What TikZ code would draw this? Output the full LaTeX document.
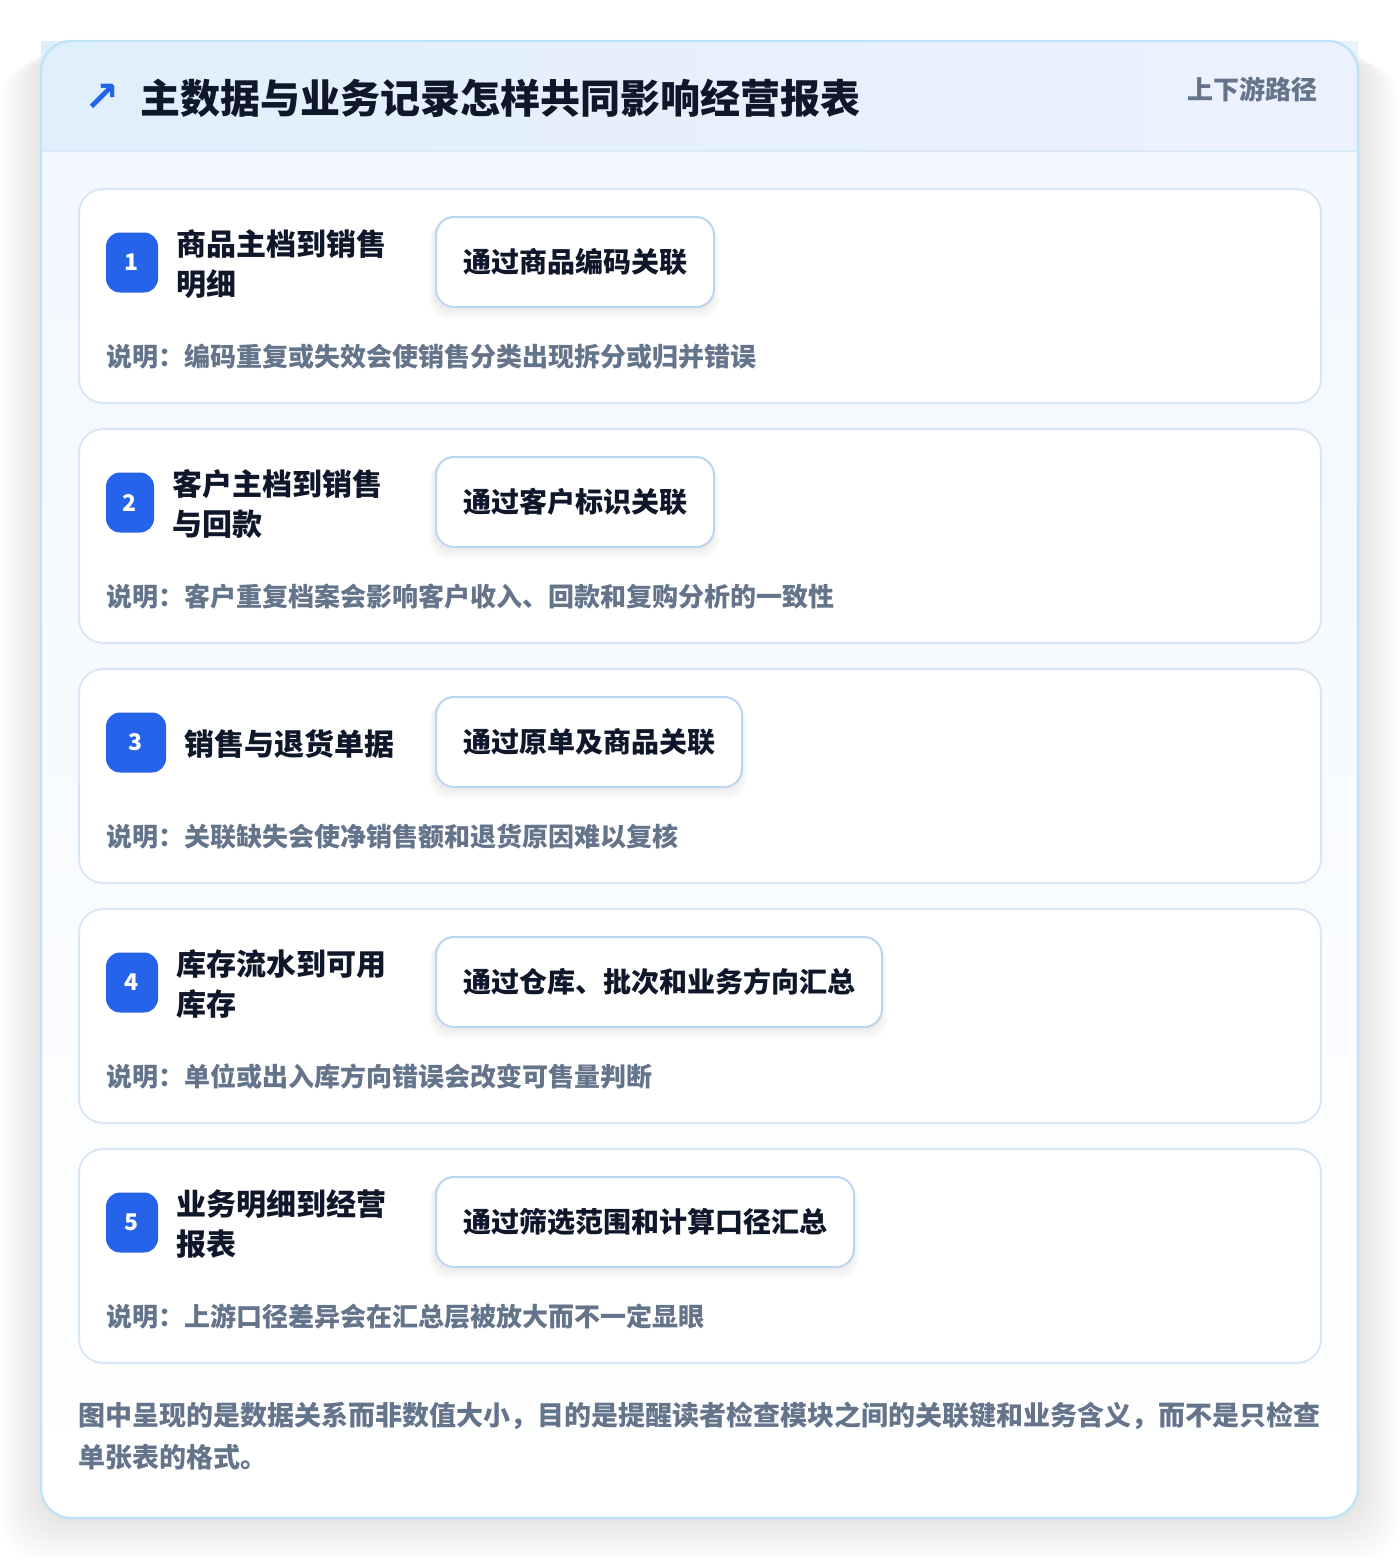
\documentclass[tikz,border=0pt]{standalone}
\usepackage{fontspec}
\setmainfont{Noto Sans CJK SC}
\newfontfamily\symfont{DejaVu Sans}
\definecolor{brandblue}{HTML}{2563EB}
\definecolor{titlecol}{HTML}{0F172A}
\definecolor{mutedcol}{HTML}{64748B}
\definecolor{outerline}{HTML}{BEE3F8}
\definecolor{rowline}{HTML}{D8E7F7}
\definecolor{chipline}{HTML}{BCD5F3}
\definecolor{headleft}{HTML}{E0EFFC}
\definecolor{headright}{HTML}{ECF2FD}
\definecolor{bodytop}{HTML}{F1F7FE}
\definecolor{headsep}{HTML}{D9E9F8}
\tikzset{
  rowcard/.style={draw=rowline, line width=1pt, fill=white, rounded corners=12pt},
  badgebox/.style={fill=brandblue, rounded corners=7pt, text=white, font=\bfseries\fontsize{11.5}{13}\selectfont, inner sep=0pt, minimum height=30pt},
  rowtitle/.style={anchor=west, align=left, text=titlecol, font=\bfseries\fontsize{15}{20}\selectfont, inner sep=0pt},
  chipbox/.style={draw=chipline, line width=1pt, fill=white, rounded corners=9pt, text=titlecol, font=\bfseries\fontsize{14}{16}\selectfont, inner sep=0pt, minimum height=45pt, anchor=west},
  notetext/.style={anchor=west, text=mutedcol, font=\bfseries\fontsize{13}{15}\selectfont, inner sep=0pt},
}
\newcommand\RowCard[8]{%
  % #1 top, #2 number, #3 badge width, #4 title x, #5 title, #6 chip width, #7 chip text, #8 note
  \path[rowcard] (79,#1) rectangle (1321,#1+214);
  \foreach \k in {1,...,6}{
    \fill[black, opacity=0.011, rounded corners=9pt] (435-\k,#1+30+\k*0.8) rectangle (435+#6+\k,#1+120+\k*1.6);
  }
  \node[badgebox, minimum width=#3*0.5pt] (badge#2) at (106+#3/2,#1+73.5) {#2};
  \node[rowtitle] (title#2) at (#4,#1+75) {#5};
  \node[chipbox, minimum width=#6*0.5pt] (chip#2) at (435,#1+73) {#7};
  \node[notetext] (note#2) at (106,#1+168) {#8};
}
\begin{document}
\begin{tikzpicture}[x=0.5pt, y=-0.5pt]
\useasboundingbox (0,0) rectangle (1400,1560);
\fill[white] (0,0) rectangle (1400,1560);
% outer shadow
\foreach \k in {1,...,26}{
  \fill[black, opacity=0.0026, rounded corners=18pt] (41-1.6*\k,41+0.9*\k) rectangle (1358+1.6*\k,1518+1.6*\k);
}
% outer card body
\shade[top color=bodytop, bottom color=white, rounded corners=15pt] (41,41) rectangle (1358,1518);
\shade[left color=headleft, right color=headright] (41,41) rectangle (1358,151);
\draw[headsep, line width=1pt] (41,151) -- (1358,151);
\draw[outerline, line width=1.2pt, rounded corners=15pt] (41,41) rectangle (1358,1518);
% header
\node[text=brandblue, font=\symfont\bfseries\fontsize{21}{22}\selectfont, inner sep=0pt] (icon) at (102,98) {↗};
\node[anchor=west, text=titlecol, font=\bfseries\fontsize{20}{24}\selectfont, inner sep=0pt] (maintitle) at (140,98) {主数据与业务记录怎样共同影响经营报表};
\node[anchor=east, text=mutedcol, font=\bfseries\fontsize{13}{15}\selectfont, inner sep=0pt] (subtitle) at (1318,89) {上下游路径};
% rows
\RowCard{189}{1}{52}{176}{商品主档到销售\\明细}{278}{通过商品编码关联}{说明：编码重复或失效会使销售分类出现拆分或归并错误}
\RowCard{429}{2}{48}{172}{客户主档到销售\\与回款}{278}{通过客户标识关联}{说明：客户重复档案会影响客户收入、回款和复购分析的一致性}
\RowCard{669}{3}{60}{184}{销售与退货单据}{306}{通过原单及商品关联}{说明：关联缺失会使净销售额和退货原因难以复核}
\RowCard{909}{4}{52}{176}{库存流水到可用\\库存}{446}{通过仓库、批次和业务方向汇总}{说明：单位或出入库方向错误会改变可售量判断}
\RowCard{1149}{5}{52}{176}{业务明细到经营\\报表}{418}{通过筛选范围和计算口径汇总}{说明：上游口径差异会在汇总层被放大而不一定显眼}
% footer
\node[anchor=west, align=left, text=mutedcol, font=\bfseries\fontsize{13.5}{21}\selectfont, inner sep=0pt] (footer) at (78,1436) {图中呈现的是数据关系而非数值大小，目的是提醒读者检查模块之间的关联键和业务含义，而不是只检查\\单张表的格式。};
\end{tikzpicture}
\end{document}
